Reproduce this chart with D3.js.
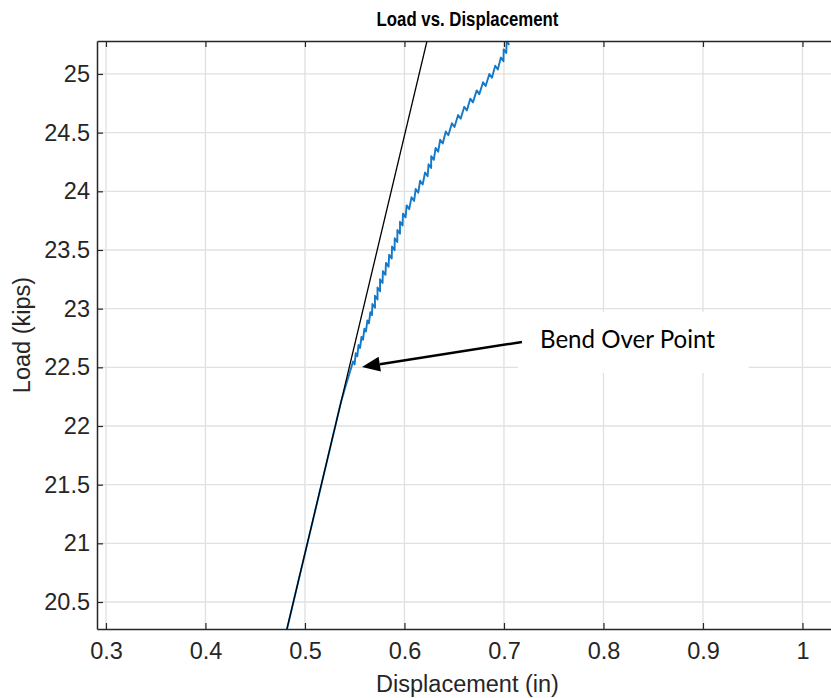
<!DOCTYPE html>
<html><head><meta charset="utf-8">
<script src="https://cdn.jsdelivr.net/npm/d3@7"></script>
<style>body{margin:0;background:#fff;} svg{display:block;}</style>
</head><body>
<svg id="c" width="831" height="698"></svg>
<script>
// ---- data ----
const xTicks = [0.3, 0.4, 0.5, 0.6, 0.7, 0.8, 0.9, 1.0];
const yTicks = [20.5, 21, 21.5, 22, 22.5, 23, 23.5, 24, 24.5, 25];
const xDomain = [0.291, 1.0357];
const yDomain = [20.27, 25.281];

// fitted elastic line (black)
const lineDisp = [0.4743, 0.6316];
const lineLoad = [20.0, 25.6];

// measured load-displacement (blue)
const blueDisp = [0.4800, 0.4940, 0.5081, 0.5221, 0.5361, 0.5412, 0.5452,
  0.5483, 0.5499, 0.5510, 0.5526, 0.5538, 0.5554, 0.5568, 0.5584, 0.5597, 0.5613,
  0.5627, 0.5643, 0.5657, 0.5673,
  0.5678, 0.5704, 0.5703, 0.5729, 0.5729, 0.5755, 0.5754, 0.5780, 0.5783, 0.5809,
  0.5814, 0.5840, 0.5846, 0.5872, 0.5875, 0.5901, 0.5902, 0.5928, 0.5929, 0.5955,
  0.5955, 0.5981, 0.5985, 0.6011, 0.6022, 0.6048, 0.6071, 0.6097, 0.6113, 0.6139,
  0.6157, 0.6183, 0.6207, 0.6233, 0.6242, 0.6268, 0.6269, 0.6295, 0.6313, 0.6339,
  0.6359, 0.6385, 0.6415, 0.6441, 0.6477, 0.6503, 0.6539, 0.6565, 0.6601, 0.6627,
  0.6662, 0.6688, 0.6726, 0.6752, 0.6790, 0.6816, 0.6853, 0.6879, 0.6912, 0.6938,
  0.6969, 0.6995, 0.6997, 0.7023, 0.7027, 0.7053];
const blueLoad = [20.20, 20.70, 21.20, 21.70, 22.20, 22.35, 22.46,
  22.550, 22.525, 22.620, 22.595, 22.690, 22.665, 22.760, 22.735, 22.830, 22.805,
  22.900, 22.875, 22.970, 22.945,
  23.040, 23.008, 23.110, 23.078, 23.180, 23.148, 23.250, 23.218, 23.320, 23.288,
  23.390, 23.358, 23.460, 23.428, 23.530, 23.498, 23.600, 23.568, 23.670, 23.638,
  23.740, 23.708, 23.810, 23.778, 23.880, 23.848, 23.950, 23.918, 24.020, 23.988,
  24.090, 24.058, 24.160, 24.128, 24.230, 24.198, 24.300, 24.268, 24.370, 24.338,
  24.440, 24.408, 24.510, 24.478, 24.580, 24.548, 24.650, 24.618, 24.720, 24.688,
  24.790, 24.758, 24.860, 24.828, 24.930, 24.898, 25.000, 24.968, 25.070, 25.038,
  25.140, 25.108, 25.210, 25.178, 25.280, 25.248];

// annotation
const noteText = "Bend Over Point";
const arrowFrom = [0.7181, 22.716];
const arrowTo = [0.5573, 22.503];
const noteAt = [0.7362, 22.665];
const noteBox = [[0.714, 22.972], [0.946, 22.452]];

// ---- chart ----
const m = {left: 97, top: 41, right: 838, bottom: 629};
const svg = d3.select("#c");
const x = d3.scaleLinear().domain(xDomain).range([m.left, m.right]);
const y = d3.scaleLinear().domain(yDomain).range([m.bottom, m.top]);
const axisCol = "#262626";
const font = "'Liberation Sans', Arial, Helvetica, sans-serif";

svg.append("defs").append("clipPath").attr("id", "clip")
  .append("rect").attr("x", m.left).attr("y", m.top)
  .attr("width", m.right - m.left).attr("height", m.bottom - m.top);

// grid
const g = svg.append("g");
g.selectAll(".gx").data(xTicks).enter().append("line")
  .attr("x1", d => x(d)).attr("x2", d => x(d)).attr("y1", m.top).attr("y2", m.bottom)
  .attr("stroke", "#e0e0e0").attr("stroke-width", 1.3);
g.selectAll(".gy").data(yTicks).enter().append("line")
  .attr("y1", d => y(d)).attr("y2", d => y(d)).attr("x1", m.left).attr("x2", m.right)
  .attr("stroke", "#e0e0e0").attr("stroke-width", 1.3);

// white box behind annotation
svg.append("rect")
  .attr("x", x(noteBox[0][0])).attr("y", y(noteBox[0][1]))
  .attr("width", x(noteBox[1][0]) - x(noteBox[0][0]))
  .attr("height", y(noteBox[1][1]) - y(noteBox[0][1]))
  .attr("fill", "#fff");

const plot = svg.append("g").attr("clip-path", "url(#clip)");
const blue = blueDisp.map((d, i) => [d, blueLoad[i]]);
const blk = lineDisp.map((d, i) => [d, lineLoad[i]]);
const ln = d3.line().x(d => x(d[0])).y(d => y(d[1]));
plot.append("path").attr("d", ln(blue)).attr("fill", "none")
  .attr("stroke", "#1479c8").attr("stroke-width", 1.9).attr("stroke-linejoin", "round");
plot.append("path").attr("d", ln(blk)).attr("fill", "none")
  .attr("stroke", "#000").attr("stroke-width", 1.3);

// axes
const xb = d3.axisBottom(x).tickValues(xTicks).tickSizeInner(-6).tickSizeOuter(0).tickPadding(13)
  .tickFormat(d => d === 1 ? "1" : d3.format(".1f")(d));
const xt = d3.axisTop(x).tickValues(xTicks).tickSizeInner(-6).tickSizeOuter(0).tickFormat("");
const yl = d3.axisLeft(y).tickValues(yTicks).tickSizeInner(-6).tickSizeOuter(0).tickPadding(7)
  .tickFormat(d => d % 1 === 0 ? String(d) : d3.format(".1f")(d));

function style(sel) {
  sel.selectAll("path").attr("stroke", axisCol).attr("stroke-width", 1.5);
  sel.selectAll("line").attr("stroke", axisCol).attr("stroke-width", 1.2);
  sel.selectAll("text").attr("fill", axisCol).style("font-family", font).style("font-size", "23.5px");
}
svg.append("g").attr("transform", `translate(0,${m.bottom})`).call(xb).call(style);
svg.append("g").attr("transform", `translate(0,${m.top})`).call(xt).call(style);
svg.append("g").attr("transform", `translate(${m.left},0)`).call(yl).call(style);

// titles
svg.append("text").attr("transform", `translate(${(m.left + m.right) / 2},26) scale(0.8,1)`)
  .attr("text-anchor", "middle").style("font-family", font).style("font-weight", "bold")
  .style("font-size", "21px").attr("fill", "#000").text("Load vs. Displacement");
svg.append("text").attr("x", (m.left + m.right) / 2).attr("y", 692)
  .attr("text-anchor", "middle").style("font-family", font)
  .style("font-size", "23.5px").attr("fill", axisCol).text("Displacement (in)");
svg.append("text").attr("transform", `translate(30,${(m.top + m.bottom) / 2}) rotate(-90)`)
  .attr("text-anchor", "middle").style("font-family", font)
  .style("font-size", "23.5px").attr("fill", axisCol).text("Load (kips)");

// arrow
const ax0 = x(arrowFrom[0]), ay0 = y(arrowFrom[1]), ax1 = x(arrowTo[0]), ay1 = y(arrowTo[1]);
const ang = Math.atan2(ay1 - ay0, ax1 - ax0);
const hl = 18, hw = 7.5;
const bx = ax1 - hl * Math.cos(ang), by = ay1 - hl * Math.sin(ang);
svg.append("line").attr("x1", ax0).attr("y1", ay0).attr("x2", bx).attr("y2", by)
  .attr("stroke", "#000").attr("stroke-width", 2.5);
svg.append("path").attr("d", d3.line()([
  [ax1, ay1],
  [bx + hw * Math.sin(ang), by - hw * Math.cos(ang)],
  [bx - hw * Math.sin(ang), by + hw * Math.cos(ang)]
]) + "Z").attr("fill", "#000");

const nt = svg.append("text").attr("x", x(noteAt[0])).attr("y", y(noteAt[1]))
  .style("font-family", "Lato, 'Open Sans', sans-serif").style("font-size", "100px")
  .attr("fill", "#000").text(noteText);
const wNow = nt.node().getComputedTextLength();
nt.style("font-size", (100 * 175 / wNow).toFixed(1) + "px");
</script>
</body></html>
